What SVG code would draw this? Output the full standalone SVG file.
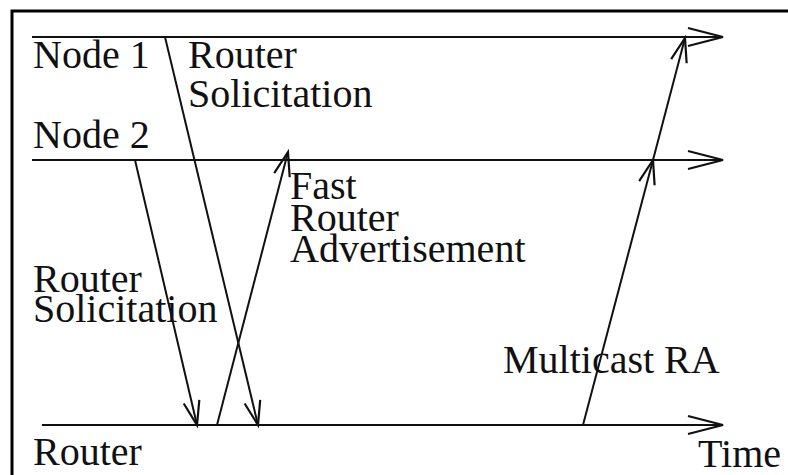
<svg xmlns="http://www.w3.org/2000/svg" width="788" height="475" viewBox="0 0 788 475">
<style>
.ln{stroke:#111;stroke-width:2;fill:none}
.t{font-family:"Liberation Serif","Times New Roman",serif;font-size:40px;fill:#111}
</style>
<defs>
<marker id="big" markerUnits="userSpaceOnUse" markerWidth="40" markerHeight="24" viewBox="-36 -12 40 24" refX="0" refY="0" orient="auto">
<path d="M-35,-9 L0,0 L-35,9" fill="none" stroke="#111" stroke-width="2.2"/>
</marker>
<marker id="sm" markerUnits="userSpaceOnUse" markerWidth="30" markerHeight="20" viewBox="-26 -10 30 20" refX="0" refY="0" orient="auto">
<path d="M-24,-8 L0,0 L-24,8" fill="none" stroke="#111" stroke-width="2.2"/>
</marker>
</defs>
<rect width="788" height="475" fill="#fff"/>
<path d="M12,480 L12,11 L790,11" fill="none" stroke="#000" stroke-width="3"/>
<g id="timelines">
<g id="node1"><line class="ln" x1="32" y1="37" x2="723" y2="37" marker-end="url(#big)"/><text class="t" x="33" y="68">Node 1</text></g>
<g id="node2"><line class="ln" x1="32" y1="160" x2="723" y2="160" marker-end="url(#big)"/><text class="t" x="33" y="148">Node 2</text></g>
<g id="router"><line class="ln" x1="42" y1="425" x2="723" y2="425" marker-end="url(#big)"/><text class="t" x="33" y="465">Router</text><text class="t" x="698" y="467">Time</text></g>
</g>
<g id="connectors">
<line class="ln" x1="165" y1="37" x2="258" y2="425" marker-end="url(#sm)"/>
<line class="ln" x1="135" y1="160" x2="197" y2="425" marker-end="url(#sm)"/>
<line class="ln" x1="217" y1="425" x2="288" y2="152" marker-end="url(#sm)"/>
<line class="ln" x1="583" y1="425" x2="653" y2="160" marker-end="url(#sm)"/>
<line class="ln" x1="653" y1="160" x2="685" y2="38" marker-end="url(#sm)"/>
</g>
<g id="labels">
<text class="t" x="188" y="68">Router</text>
<text class="t" x="188" y="107">Solicitation</text>
<text class="t" x="290" y="199">Fast</text>
<text class="t" x="290" y="231">Router</text>
<text class="t" x="290" y="262">Advertisement</text>
<text class="t" x="33" y="292">Router</text>
<text class="t" x="33" y="322">Solicitation</text>
<text class="t" x="503" y="373">Multicast RA</text>
</g>
</svg>
